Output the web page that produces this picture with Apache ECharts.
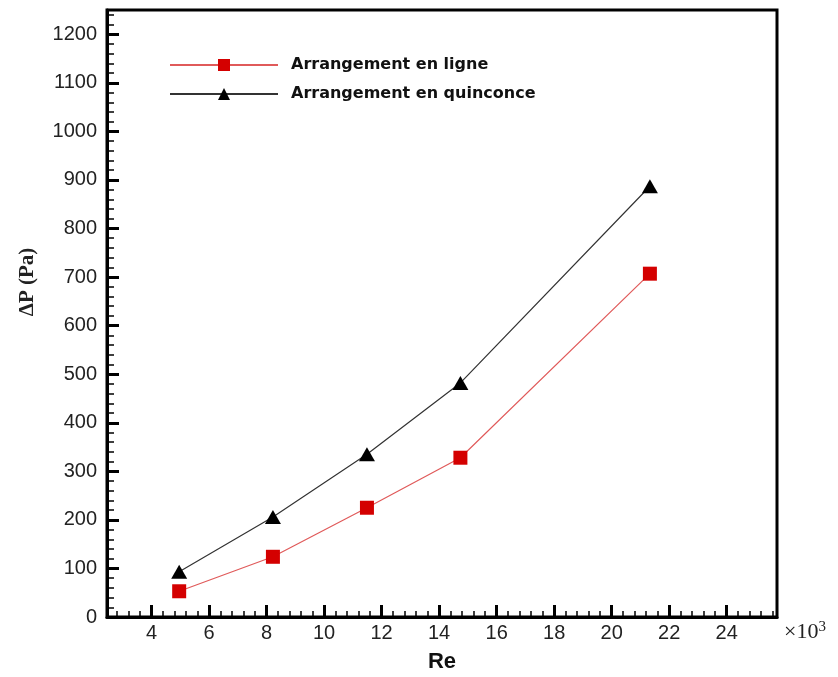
<!DOCTYPE html>
<html>
<head>
<meta charset="utf-8">
<script src="https://cdn.jsdelivr.net/npm/echarts@6/dist/echarts.min.js"></script>
<style>html,body{margin:0;padding:0;background:#fff;}#chart{width:838px;height:677px;}</style>
</head>
<body>
<div id="chart"></div>
<script>
const seriesNames = ['Arrangement en ligne', 'Arrangement en quinconce'];
const reLigne = [4.96, 8.22, 11.49, 14.74, 21.33];
const dpLigne = [53, 124, 225, 328, 707];
const reQuinconce = [4.96, 8.22, 11.49, 14.74, 21.33];
const dpQuinconce = [93, 206, 335, 482, 887];
const xMajorTicks = [4, 6, 8, 10, 12, 14, 16, 18, 20, 22, 24];
const yMajorTicks = [0, 100, 200, 300, 400, 500, 600, 700, 800, 900, 1000, 1100, 1200];

const xMinorTicks = [];
for (let i = 7; i <= 64; i++) { const v = +(i * 0.4).toFixed(2); if (Math.abs(v / 2 - Math.round(v / 2)) > 1e-6) xMinorTicks.push(v); }
const yMinorTicks = [];
for (let v = 20; v <= 1240; v += 20) { if (v % 100 !== 0) yMinorTicks.push(v); }

const chart = echarts.init(document.getElementById('chart'));
const font = 'Liberation Sans, Arial, sans-serif';
chart.setOption({
  backgroundColor: '#fff',
  animation: false,
  grid: { left: 107, right: 61, top: 10, bottom: 60, outerBoundsMode: 'none', containLabel: false, show: true, borderColor: '#000', borderWidth: 3, backgroundColor: 'transparent' },
  legend: {
    orient: 'vertical', left: 164, top: 52, itemWidth: 108, itemHeight: 15, itemGap: 13,
    textStyle: { fontFamily: 'DejaVu Sans, sans-serif', fontWeight: 'bold', fontSize: 16, color: '#111', padding: [0, 0, 0, 8] },
    data: seriesNames
  },
  xAxis: [{
    type: 'value', min: 2.45, max: 25.75,
    axisLine: { lineStyle: { color: '#000', width: 3 } },
    axisTick: { inside: true, length: 12, customValues: xMajorTicks, lineStyle: { color: '#000', width: 3 } },
    axisLabel: { customValues: xMajorTicks, fontFamily: font, fontSize: 20, color: '#222', margin: 6, formatter: v => String(v) },
    splitLine: { show: false },
    name: 'Re', nameLocation: 'middle', nameGap: 34,
    nameTextStyle: { fontFamily: font, fontWeight: 'bold', fontSize: 22, color: '#111' }
  }, {
    type: 'value', min: 2.45, max: 25.75, position: 'bottom',
    axisLine: { show: false },
    axisTick: { inside: true, length: 6, customValues: xMinorTicks, lineStyle: { color: '#000', width: 1.5 } },
    axisLabel: { show: false }, splitLine: { show: false }
  }],
  yAxis: [{
    type: 'value', min: 0, max: 1250,
    axisLine: { lineStyle: { color: '#000', width: 3 } },
    axisTick: { inside: true, length: 12, customValues: yMajorTicks, lineStyle: { color: '#000', width: 3 } },
    axisLabel: { customValues: yMajorTicks, fontFamily: font, fontSize: 20, color: '#222', margin: 10, formatter: v => String(v) },
    splitLine: { show: false }
  }, {
    type: 'value', min: 0, max: 1250, position: 'left',
    axisLine: { show: false },
    axisTick: { inside: true, length: 7, customValues: yMinorTicks, lineStyle: { color: '#000', width: 1.5 } },
    axisLabel: { show: false }, splitLine: { show: false }
  }],
  graphic: [
    { type: 'text', left: 784, top: 620, style: { text: '×10{s|3}', fontFamily: 'Liberation Serif, Times New Roman, serif', fontSize: 22, fill: '#222',
      rich: { s: { fontFamily: 'Liberation Serif, serif', fontSize: 15, verticalAlign: 'top', padding: [0, 0, 10, 0], fill: '#222' } } } },
    { type: 'text', x: 28, y: 282, rotation: Math.PI / 2, style: { text: 'ΔP (Pa)', fontFamily: 'Liberation Serif, Times New Roman, serif', fontWeight: 'bold', fontSize: 21, fill: '#222', align: 'center', verticalAlign: 'middle' } }
  ],
  series: [{
    name: seriesNames[0], type: 'line', xAxisIndex: 0, yAxisIndex: 0,
    data: reLigne.map((x, i) => [x, dpLigne[i]]),
    symbol: 'rect', symbolSize: 14,
    itemStyle: { color: '#d40000' },
    lineStyle: { color: '#e05a5a', width: 1.2 }
  }, {
    name: seriesNames[1], type: 'line', xAxisIndex: 0, yAxisIndex: 0,
    data: reQuinconce.map((x, i) => [x, dpQuinconce[i]]),
    symbol: 'triangle', symbolSize: [16, 14],
    itemStyle: { color: '#000' },
    lineStyle: { color: '#333', width: 1.2 }
  }]
});
</script>
</body>
</html>
